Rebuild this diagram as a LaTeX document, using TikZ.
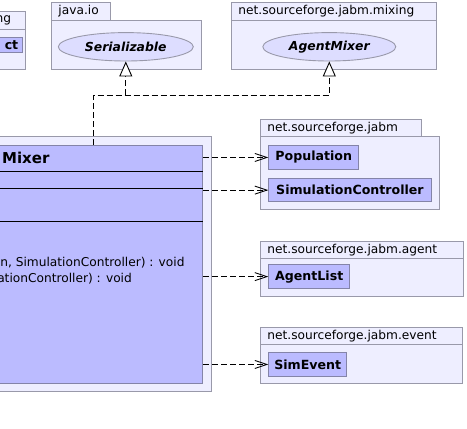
\documentclass[tikz,border=0pt]{standalone}
\usepackage{fontspec}
\setmainfont{DejaVu Sans}
\usepackage{tikz}
\usetikzlibrary{positioning, arrows.meta, shapes.geometric}
\definecolor{pkgfill}{HTML}{EEEEFF}
\definecolor{pkgline}{HTML}{9999AA}
\definecolor{clsfill}{HTML}{BBBBFF}
\definecolor{clsline}{HTML}{8484A8}
\definecolor{ifacefill}{HTML}{DDDDFF}
\tikzset{
  pkgbody/.style={shape=rectangle, draw=pkgline, fill=pkgfill, anchor=north west, inner sep=0pt},
  pkgtab/.style={pkgbody, inner xsep=7pt, align=left, font=\fontsize{12.2}{14}\selectfont},
  cls/.style={shape=rectangle, draw=clsline, fill=clsfill, anchor=north west, inner sep=0pt,
    font=\bfseries\fontsize{12.6}{14}\selectfont},
  clsname/.style={inner sep=0pt, font=\bfseries\fontsize{15}{17}\selectfont},
  member/.style={inner sep=0pt, font=\fontsize{12.2}{14}\selectfont},
  iface/.style={shape=ellipse, draw=pkgline, fill=ifacefill, inner sep=0pt,
    font=\bfseries\itshape\fontsize{12.4}{14}\selectfont},
  depends/.style={dash pattern=on 6pt off 3pt, -{Straight Barb[length=12pt, width=8pt]}},
  realizes/.style={dash pattern=on 6pt off 3pt, -{Triangle[open, fill=white, length=15pt, width=13pt]}}
}

\begin{document}
\begin{tikzpicture}[x=1pt, y=-1pt, line width=0.9pt]
  \clip (0,0) rectangle (467,429);

  % package cut at the left edge
  \node[pkgbody, minimum width=75, minimum height=40] (langbody) at (-50,29) {};
  \node[pkgbody, minimum width=75, minimum height=18] (langtab) at (-50,11) {};
  \node[member, anchor=east] (langname) at (11.5,20) {ng};
  \node[cls, anchor=north east, inner xsep=4pt, text width=42, align=right,
    minimum height=15.6] (object) at (22.7,36.7) {ct};

  % java.io
  \node[pkgbody, minimum width=150, minimum height=49.3] (iobody) at (51,20) {};
  \node[pkgtab, minimum width=59, minimum height=18, text width=45] (iotab) at (51,2) {java.io};
  \node[iface, minimum width=135, minimum height=28.4] (serial) at (125.8,46.8) {Serializable};

  % net.sourceforge.jabm.mixing
  \node[pkgbody, minimum width=205, minimum height=49.3] (mixbody) at (231,20) {};
  \node[pkgtab, minimum width=205, minimum height=18, text width=191] (mixtab) at (231,2) {net.sourceforge.jabm.mixing};
  \node[iface, minimum width=133, minimum height=28.4] (agentmixer) at (329.3,46.8) {AgentMixer};

  % the mixer class
  \node[pkgbody, minimum width=320.7, minimum height=255.3] (mainbody) at (-110,135.7) {};
  \node[cls, minimum width=302.3, minimum height=238] (mixer) at (-100,145) {};
  \foreach \d in {26.7, 43.3, 76.7}
    \draw ([yshift=-\d pt]mixer.north west) -- ([yshift=-\d pt]mixer.north east);
  \node[clsname, anchor=west] (mixername) at (1.7,158.3) {Mixer};
  \node[member, anchor=east] (invoke1) at (185,262.3) {on, SimulationController) : void};
  \node[member, anchor=east] (invoke2) at (132.3,278.5) {ationController) : void};

  % net.sourceforge.jabm
  \node[pkgbody, minimum width=179, minimum height=73] (jabmbody) at (260,136) {};
  \node[pkgtab, minimum width=160.7, minimum height=16.7, text width=146.7] (jabmtab) at (260,119.3) {net.sourceforge.jabm};
  \node[cls, minimum width=90, minimum height=24] (population) at (268.3,145) {Population};
  \node[cls, minimum width=162.4, minimum height=22.7] (simctrl) at (268.3,178.3) {SimulationController};

  % net.sourceforge.jabm.agent
  \node[pkgbody, minimum width=202.7, minimum height=37.4] (agentbody) at (260,258.3) {};
  \node[pkgtab, minimum width=202.7, minimum height=17.6, text width=188.7] (agenttab) at (260,240.7) {net.sourceforge.jabm.agent};
  \node[cls, minimum width=81, minimum height=24.3] (agentlist) at (268.3,264) {AgentList};

  % net.sourceforge.jabm.event
  \node[pkgbody, minimum width=202.3, minimum height=38.7] (eventbody) at (260,344.3) {};
  \node[pkgtab, minimum width=202.3, minimum height=17.6, text width=188.3] (eventtab) at (260,326.7) {net.sourceforge.jabm.event};
  \node[cls, minimum width=78, minimum height=23.4] (simevent) at (268.3,352.3) {SimEvent};

  % realizations
  \coordinate (bend) at (93.7,95);
  \coordinate (split) at (125.8,95);
  \draw[realizes] (mixer.north -| bend) -- (bend) -| (agentmixer.south);
  \draw[realizes] (split) -- (serial.south);

  % dependencies
  \foreach \target in {population, simctrl, agentlist, simevent}
    \draw[depends] (mixer.east |- \target) -- (\target);
\end{tikzpicture}
\end{document}
